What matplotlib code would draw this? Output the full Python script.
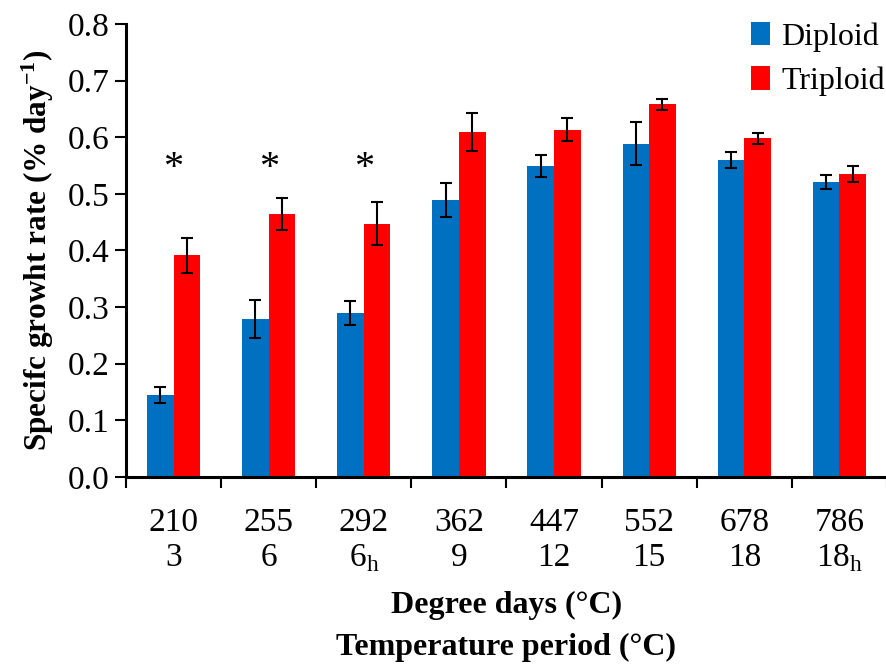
import numpy as np
import matplotlib
matplotlib.use('Agg')
import matplotlib.pyplot as plt

plt.rcParams['font.family'] = ['Liberation Serif', 'DejaVu Serif']
plt.rcParams['mathtext.fontset'] = 'custom'
plt.rcParams['mathtext.rm'] = 'Liberation Serif'
plt.rcParams['mathtext.bf'] = 'Liberation Serif:bold'

degree_days = ['210', '255', '292', '362', '447', '552', '678', '786']
temp_period = ['3', '6', '6$_\\mathregular{h}$', '9', '12', '15', '18', '18$_\\mathregular{h}$']
diploid = [0.145, 0.279, 0.289, 0.489, 0.549, 0.588, 0.560, 0.521]
diploid_err = [0.014, 0.033, 0.021, 0.030, 0.020, 0.038, 0.014, 0.012]
triploid = [0.391, 0.464, 0.447, 0.609, 0.613, 0.658, 0.598, 0.535]
triploid_err = [0.031, 0.028, 0.038, 0.033, 0.020, 0.010, 0.010, 0.014]
signif = [True, True, True, False, False, False, False, False]

fig = plt.figure(figsize=(8.87, 6.65), dpi=100)
ax = fig.add_axes([0.142, 0.283, 0.858, 0.681])

x = np.arange(len(degree_days)) + 0.5
w = 0.28
err_kw = dict(ecolor='black', elinewidth=1.5, capsize=4, capthick=1.5)
ax.bar(x - w / 2, diploid, w, yerr=diploid_err, color='#0070C0', label='Diploid', error_kw=err_kw)
ax.bar(x + w / 2, triploid, w, yerr=triploid_err, color='#FF0000', label='Triploid', error_kw=err_kw)

# significance markers
for xi, s in zip(x, signif):
    if s:
        ax.text(xi, 0.545, '*', ha='center', va='center', fontsize=29)

ax.set_xlim(0, len(degree_days))
ax.set_ylim(0, 0.8)
ax.set_yticks(np.arange(0, 0.81, 0.1))
ax.set_yticklabels(['%.1f' % v for v in np.arange(0, 0.81, 0.1)])

ax.set_xticks(np.arange(0, len(degree_days) + 1))
ax.set_xticklabels([])
ax.set_xticks(x, minor=True)
ax.set_xticklabels([a + '\n' + b for a, b in zip(degree_days, temp_period)], minor=True)
ax.tick_params(axis='x', which='minor', length=0, pad=22, labelsize=24)
ax.tick_params(axis='x', which='major', length=8, width=1.5, direction='out')
ax.tick_params(axis='y', length=8, width=1.5, direction='out', labelsize=24, pad=4)

for side in ['top', 'right']:
    ax.spines[side].set_visible(False)
for side in ['left', 'bottom']:
    ax.spines[side].set_linewidth(2.2)

ax.set_ylabel('Specifc growht rate (% day$\\mathbf{^{-1}}$)', fontsize=22.5, fontweight='bold', labelpad=8)
ax.set_xlabel('Degree days (°C)\nTemperature period (°C)', fontsize=23, fontweight='bold',
              linespacing=1.6, labelpad=12)

ax.legend(loc='upper right', bbox_to_anchor=(1.035, 1.068), frameon=False, fontsize=23,
          handlelength=0.6, handleheight=0.75, handletextpad=0.35, labelspacing=0.45)

fig.savefig('out.png', dpi=100)
